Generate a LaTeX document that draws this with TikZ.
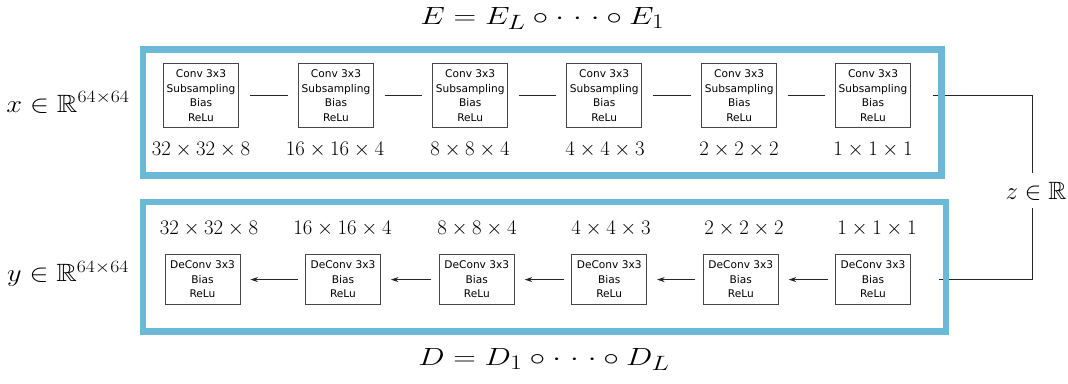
\documentclass[tikz,border=0pt]{standalone}
\usepackage{amssymb}
\usepackage{graphicx}
\usepackage{fontspec}
\newfontfamily\boxfont{DejaVu Sans}
\usetikzlibrary{arrows.meta}
\definecolor{frameblue}{RGB}{107,185,215}
\definecolor{boxgray}{RGB}{70,70,70}
\newcommand{\spreaddots}{\mathinner{\cdotp\mkern2.2mu\cdotp\mkern2.2mu\cdotp}}
\begin{document}
\begin{tikzpicture}[x=1pt,y=-1pt,
  layerbox/.style={draw=boxgray,line width=0.8pt,inner sep=0pt,minimum width=75pt,align=center,
    font=\boxfont\fontsize{10.6}{14.5}\selectfont},
  encbox/.style={layerbox,minimum height=64.5pt},
  decbox/.style={layerbox,minimum height=50.5pt},
  dimlabel/.style={font=\fontsize{20.5}{24}\selectfont,inner sep=0pt},
  sidelabel/.style={font=\fontsize{25}{30}\selectfont,inner sep=0pt,anchor=base},
  titlelabel/.style={font=\fontsize{28}{34}\selectfont,inner sep=0pt,anchor=base},
  conn/.style={draw=black!85,line width=0.9pt},
  arr/.style={conn,-{Stealth[length=7.5pt,width=5pt]}},
  frame/.style={draw=frameblue,line width=6.5pt}
]
\useasboundingbox (0,0) rectangle (1068,383);

% encoder boxes
\foreach \i/\cx in {1/201,2/336,3/470.2,4/604.2,5/739.2,6/873}{
  \node[encbox] (t\i) at (\cx,95.5) {Conv 3x3\\Subsampling\\Bias\\ReLu};
}
% decoder boxes
\foreach \i/\cx in {1/202.5,2/343,3/476.8,4/609.2,5/740.8,6/873}{
  \node[decbox] (b\i) at (\cx,279.6) {DeConv 3x3\\Bias\\ReLu};
}

% encoder dims
\node[dimlabel] (td1) at (201,150) {$32\times32\times8$};
\node[dimlabel] (td2) at (335,150) {$16\times16\times4$};
\node[dimlabel] (td3) at (470,150) {$8\times8\times4$};
\node[dimlabel] (td4) at (605,150) {$4\times4\times3$};
\node[dimlabel] (td5) at (739,150) {$2\times2\times2$};
\node[dimlabel] (td6) at (873,150) {$1\times1\times1$};
% decoder dims
\node[dimlabel] (bd1) at (209,228.5) {$32\times32\times8$};
\node[dimlabel] (bd2) at (342.5,228.5) {$16\times16\times4$};
\node[dimlabel] (bd3) at (477,228.5) {$8\times8\times4$};
\node[dimlabel] (bd4) at (611,228.5) {$4\times4\times3$};
\node[dimlabel] (bd5) at (744,228.5) {$2\times2\times2$};
\node[dimlabel] (bd6) at (877,228.5) {$1\times1\times1$};

% encoder links
\foreach \a/\b in {1/2,2/3,3/4,4/5,5/6}{
  \draw[conn,shorten <=11pt,shorten >=10pt] (t\a.east) -- (t\b.west);
}
% decoder arrows
\foreach \a/\b in {2/1,3/2,4/3,5/4,6/5}{
  \draw[arr,shorten <=7.5pt,shorten >=10pt] (b\a.west) -- (b\b.east);
}

% latent
\node[sidelabel] (z) at (1036,199.3) {$z\in\mathbb{R}$};
\coordinate (zt) at (1032,173);
\coordinate (zb) at (1032,208);
\draw[conn] ([xshift=22pt]t6.east) -| (zt);
\draw[conn] (zb) |- ([xshift=28pt]b6.east);

% frames
\draw[frame] (143,49.5) rectangle (941.5,175.5);
\draw[frame] (143,202) rectangle (946,331.5);

% side labels
\node[sidelabel] (xl) at (68,112) {\scalebox{1.14}[1]{$x\in\mathbb{R}^{64\times64}$}};
\node[sidelabel] (yl) at (68,281.7) {\scalebox{1.14}[1]{$y\in\mathbb{R}^{64\times64}$}};

% titles
\node[titlelabel] (et) at (542.5,24) {\scalebox{1.26}[1]{$E=E_L\circ\spreaddots\circ E_1$}};
\node[titlelabel] (dt) at (544,365) {\scalebox{1.26}[1]{$D=D_1\circ\spreaddots\circ D_L$}};
\end{tikzpicture}
\end{document}
